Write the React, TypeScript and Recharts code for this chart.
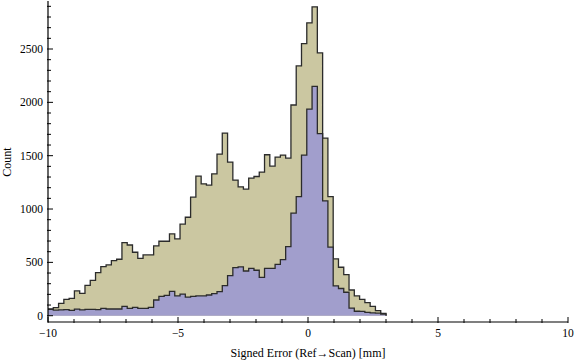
import { ComposedChart, Area, XAxis, YAxis } from "recharts";

// bins run from -10 to 3, same bins for both series
const binStart = -10;
const binEnd = 3;

const totalCounts = [
  63, 75, 116, 153, 163, 232, 210, 285, 332, 404, 460, 476, 516, 529, 685, 663,
  595, 538, 570, 570, 654, 698, 698, 767, 720, 858, 923, 1111, 1308, 1236, 1224,
  1330, 1515, 1712, 1440, 1271, 1208, 1186, 1290, 1305, 1346, 1509, 1402, 1487,
  1506, 1477, 1975, 2341, 2551, 2745, 2895, 2463, 1665, 1117, 532, 454, 385, 241,
  185, 153, 122, 88, 47, 22,
];

const subsetCounts = [
  60, 52, 55, 57, 50, 62, 55, 60, 60, 57, 68, 63, 63, 63, 88, 69, 78, 69, 69, 78,
  147, 182, 191, 228, 185, 203, 175, 182, 185, 185, 194, 207, 225, 282, 375, 451,
  457, 419, 444, 426, 360, 444, 444, 482, 526, 648, 961, 1117, 1505, 1937, 2150,
  1706, 1077, 642, 279, 255, 220, 72, 42, 40, 32, 26, 24, 14,
];

const xTicks = [-10, -9, -8, -7, -6, -5, -4, -3, -2, -1, 0, 1, 2, 3, 4, 5, 6, 7, 8, 9, 10];
const xLabels = [-10, -5, 0, 5, 10];
const yTicks = [
  0, 100, 200, 300, 400, 500, 600, 700, 800, 900, 1000, 1100, 1200, 1300, 1400,
  1500, 1600, 1700, 1800, 1900, 2000, 2100, 2200, 2300, 2400, 2500, 2600, 2700,
  2800, 2900,
];
const yLabels = [0, 500, 1000, 1500, 2000, 2500];

const binWidth = (binEnd - binStart) / totalCounts.length;
const data = totalCounts.map((t, i) => ({
  x: binStart + i * binWidth,
  total: t,
  subset: subsetCounts[i],
}));
data.push({ x: binEnd, total: 0, subset: 0 });

const font = "'Liberation Serif', 'Times New Roman', serif";
const fmt = (v: number) => (v < 0 ? "\u2212" + Math.abs(v) : String(v));

const BottomTick = (props: any) => {
  const { x, y, payload } = props;
  const major = xLabels.includes(payload.value);
  return (
    <g>
      <line x1={x} y1={y + 1} x2={x} y2={y - (major ? 5 : 3)} stroke="#000" />
      {major && (
        <text x={x} y={y + 15} textAnchor="middle" fontFamily={font} fontSize={11.5} fill="#000">
          {fmt(payload.value)}
        </text>
      )}
    </g>
  );
};

const TopTick = (props: any) => {
  const { x, y, payload } = props;
  const major = xLabels.includes(payload.value);
  return <line x1={x} y1={y} x2={x} y2={y + (major ? 5 : 3)} stroke="#000" />;
};

const LeftTick = (props: any) => {
  const { x, y, payload } = props;
  const major = yLabels.includes(payload.value);
  return (
    <g>
      <line x1={x - 1} y1={y} x2={x + (major ? 5 : 3)} y2={y} stroke="#000" />
      {major && (
        <text x={x - 5} y={y + 4} textAnchor="end" fontFamily={font} fontSize={11.5} fill="#000">
          {payload.value}
        </text>
      )}
    </g>
  );
};

const RightTick = (props: any) => {
  const { x, y, payload } = props;
  const major = yLabels.includes(payload.value);
  return <line x1={x} y1={y} x2={x - (major ? 5 : 3)} y2={y} stroke="#000" />;
};

const CountLabel = () => (
  <text
    x={11}
    y={162}
    transform="rotate(-90, 11, 162)"
    textAnchor="middle"
    fontFamily={font}
    fontSize={12}
    fill="#000"
  >
    Count
  </text>
);

export default function App() {
  return (
    <div style={{ position: "absolute", left: 0, top: 0, background: "#fff" }}>
      <ComposedChart
        width={576}
        height={362}
        data={data}
        margin={{ top: 1, right: 8, left: 0, bottom: 0 }}
      >
        <XAxis
          dataKey="x"
          type="number"
          domain={[-10, 10]}
          ticks={xTicks}
          interval={0}
          allowDataOverflow
          height={40}
          tickSize={0}
          tickMargin={0}
          tickLine={false}
          axisLine={{ stroke: "#000", strokeWidth: 1.2 }}
          tick={<BottomTick />}
          label={{
            value: "Signed Error (Ref\u2192Scan) [mm]",
            position: "insideBottom",
            offset: 5,
            style: { fontFamily: font, fontSize: 12, fill: "#000" },
          }}
        />
        <XAxis
          xAxisId="top"
          orientation="top"
          type="number"
          domain={[-10, 10]}
          ticks={xTicks}
          interval={0}
          height={0}
          tickSize={0}
          tickMargin={0}
          tickLine={false}
          axisLine={{ stroke: "#000", strokeWidth: 1.2 }}
          tick={<TopTick />}
        />
        <YAxis
          type="number"
          domain={[-59, 2950]}
          ticks={yTicks}
          interval={0}
          allowDataOverflow
          width={48}
          tickSize={0}
          tickMargin={0}
          tickLine={false}
          axisLine={{ stroke: "#000", strokeWidth: 1.2 }}
          tick={<LeftTick />}
          label={<CountLabel />}
        />
        <YAxis
          yAxisId="right"
          orientation="right"
          type="number"
          domain={[-59, 2950]}
          ticks={yTicks}
          interval={0}
          width={0}
          tickSize={0}
          tickMargin={0}
          tickLine={false}
          axisLine={{ stroke: "#000", strokeWidth: 1.2 }}
          tick={<RightTick />}
        />
        <Area
          type="stepAfter"
          dataKey="total"
          baseValue={0}
          fill="#CBC7A1"
          fillOpacity={1}
          stroke="#2b2b2b"
          strokeWidth={1.3}
          isAnimationActive={false}
          dot={false}
          activeDot={false}
        />
        <Area
          type="stepAfter"
          dataKey="subset"
          baseValue={0}
          fill="#A19ECC"
          fillOpacity={1}
          stroke="#2b2b2b"
          strokeWidth={1.3}
          isAnimationActive={false}
          dot={false}
          activeDot={false}
        />
      </ComposedChart>
    </div>
  );
}
